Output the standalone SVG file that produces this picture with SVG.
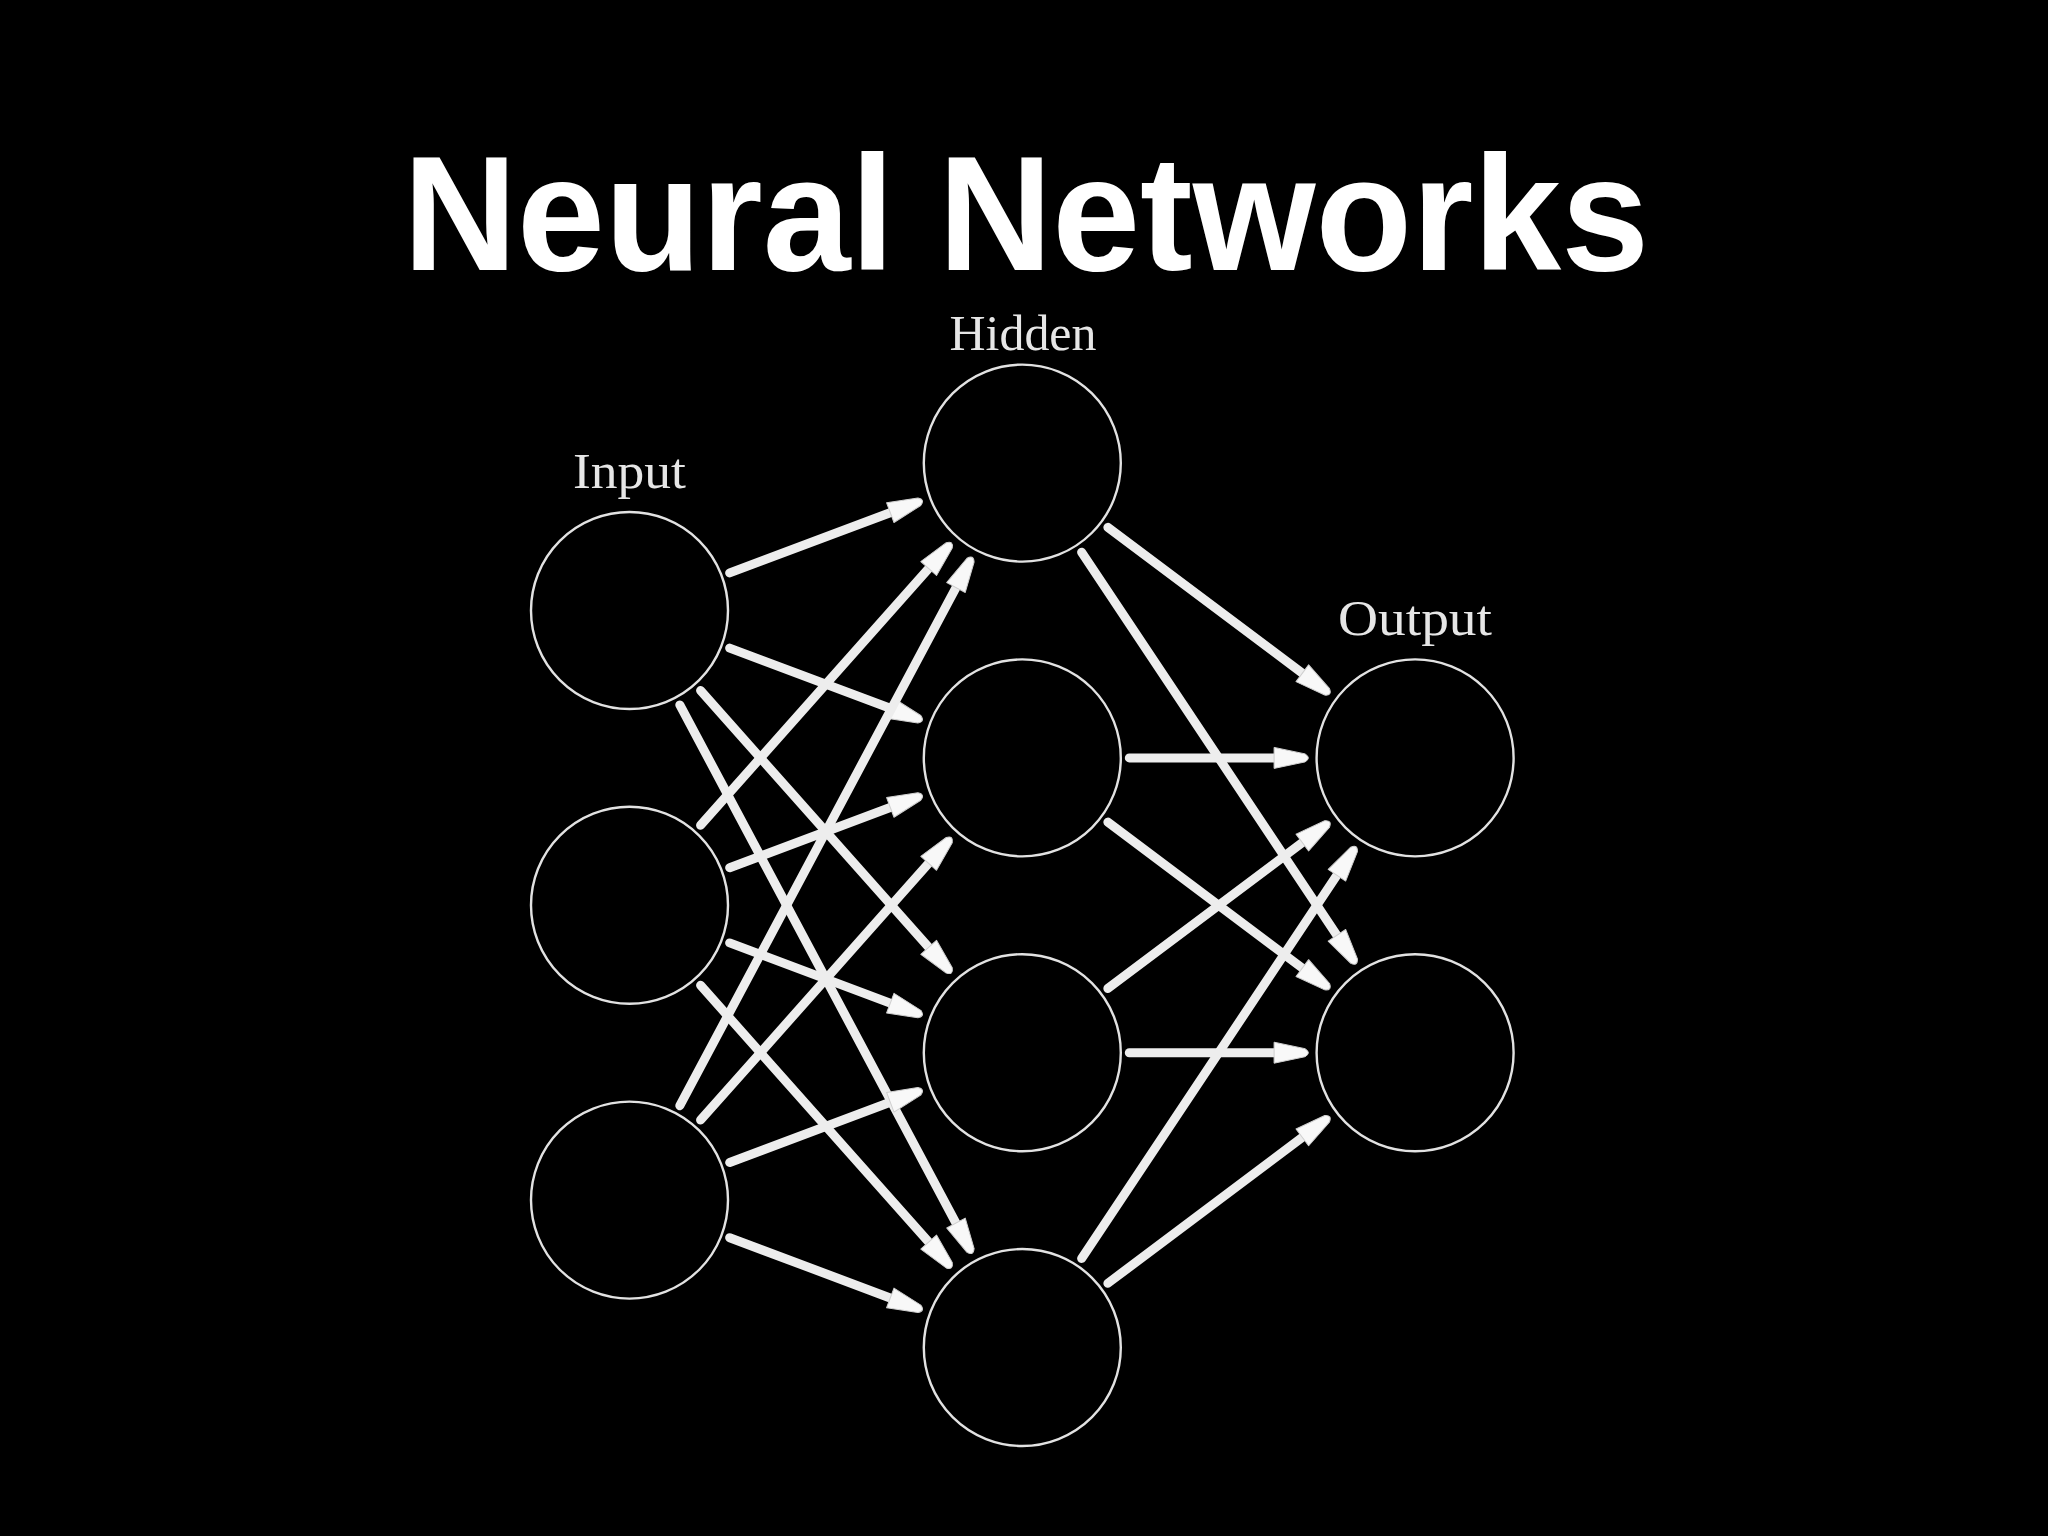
<svg xmlns="http://www.w3.org/2000/svg" width="2048" height="1536" viewBox="0 0 2048 1536">
  <defs>
    <style>
      .title { font-family: "Liberation Sans", Arial, Helvetica, sans-serif; font-weight: bold; font-size: 164px; fill: #ffffff; }
      .label { font-family: "Liberation Serif", "DejaVu Serif", serif; font-size: 50px; fill: #e6e6e6; }
      .neuron { fill: #000000; stroke: #e2e2e2; stroke-width: 2.4; }
      .edge { stroke: #ededed; stroke-width: 9; stroke-linecap: round; fill: none; marker-end: url(#arrow); }
    </style>
    <marker id="arrow" markerUnits="userSpaceOnUse" markerWidth="60" markerHeight="40" refX="2" refY="0" orient="auto" overflow="visible" viewBox="-5 -20 60 40">
      <path d="M0,-10.5 L31,-4 Q37.5,0 31,4 L0,10.5 Z" fill="#f8f8f8" stroke="#cfcfcf" stroke-width="1" stroke-linejoin="round"/>
    </marker>
  </defs>
  <rect x="0" y="0" width="2048" height="1536" fill="#000000"/>
  <text class="title" x="1026" y="270" text-anchor="middle" textLength="1246" lengthAdjust="spacingAndGlyphs">Neural Networks</text>

  <g id="connectors">
    <line class="edge" x1="729.68" y1="572.91" x2="892.16" y2="511.93"/>
    <line class="edge" x1="729.68" y1="648.09" x2="892.16" y2="709.07"/>
    <line class="edge" x1="700.56" y1="690.50" x2="929.99" y2="948.78"/>
    <line class="edge" x1="679.83" y1="704.93" x2="956.92" y2="1224.84"/>
    <line class="edge" x1="700.56" y1="825.30" x2="929.99" y2="567.02"/>
    <line class="edge" x1="729.68" y1="867.71" x2="892.16" y2="806.73"/>
    <line class="edge" x1="729.68" y1="942.89" x2="892.16" y2="1003.87"/>
    <line class="edge" x1="700.56" y1="985.30" x2="929.99" y2="1243.58"/>
    <line class="edge" x1="679.83" y1="1105.67" x2="956.92" y2="585.76"/>
    <line class="edge" x1="700.56" y1="1120.10" x2="929.99" y2="861.82"/>
    <line class="edge" x1="729.68" y1="1162.51" x2="892.16" y2="1101.53"/>
    <line class="edge" x1="729.68" y1="1237.69" x2="892.16" y2="1298.67"/>
    <line class="edge" x1="1107.88" y1="527.33" x2="1303.93" y2="674.46"/>
    <line class="edge" x1="1081.63" y1="552.15" x2="1338.03" y2="937.02"/>
    <line class="edge" x1="1129.3" y1="757.9" x2="1276.1" y2="757.9"/>
    <line class="edge" x1="1107.88" y1="822.13" x2="1303.93" y2="969.26"/>
    <line class="edge" x1="1107.88" y1="988.47" x2="1303.93" y2="841.34"/>
    <line class="edge" x1="1129.3" y1="1052.7" x2="1276.1" y2="1052.7"/>
    <line class="edge" x1="1081.63" y1="1258.45" x2="1338.03" y2="873.58"/>
    <line class="edge" x1="1107.88" y1="1283.27" x2="1303.93" y2="1136.14"/>
  </g>

  <g id="input-1"><circle class="neuron" cx="629.5" cy="610.5" r="98.5"/></g>
  <g id="input-2"><circle class="neuron" cx="629.5" cy="905.3" r="98.5"/></g>
  <g id="input-3"><circle class="neuron" cx="629.5" cy="1200.1" r="98.5"/></g>
  <g id="hidden-1"><circle class="neuron" cx="1022.3" cy="463.1" r="98.5"/></g>
  <g id="hidden-2"><circle class="neuron" cx="1022.3" cy="757.9" r="98.5"/></g>
  <g id="hidden-3"><circle class="neuron" cx="1022.3" cy="1052.7" r="98.5"/></g>
  <g id="hidden-4"><circle class="neuron" cx="1022.3" cy="1347.5" r="98.5"/></g>
  <g id="output-1"><circle class="neuron" cx="1415.1" cy="757.9" r="98.5"/></g>
  <g id="output-2"><circle class="neuron" cx="1415.1" cy="1052.7" r="98.5"/></g>

  <g id="labels">
    <text class="label" x="629.5" y="488" text-anchor="middle" textLength="113" lengthAdjust="spacingAndGlyphs">Input</text>
    <text class="label" x="1023" y="350" text-anchor="middle" textLength="147" lengthAdjust="spacingAndGlyphs">Hidden</text>
    <text class="label" x="1415" y="635" text-anchor="middle" textLength="154" lengthAdjust="spacingAndGlyphs">Output</text>
  </g>
</svg>
